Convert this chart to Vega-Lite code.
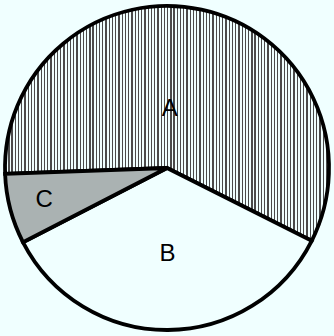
{
  "$schema": "https://vega.github.io/schema/vega-lite/v6.json",
  "width": 334,
  "height": 336,
  "padding": 0,
  "autosize": {"type": "none"},
  "background": "#f0ffff",
  "config": {"view": {"stroke": null}},
  "data": {"values": [
    {"cat": "A", "value": 58},
    {"cat": "B", "value": 35},
    {"cat": "C", "value": 7}
  ]},
  "encoding": {
    "theta": {"field": "value", "type": "quantitative", "stack": true, "scale": {"range": [4.676, 10.959]}},
    "detail": {"field": "cat", "type": "nominal"}
  },
  "layer": [
    {
      "mark": {"type": "arc", "radius": 162, "stroke": "#000000", "strokeWidth": 3.8},
      "encoding": {
        "fill": {
          "condition": [
            {"test": "datum.cat === 'A'", "value": {"gradient": "linear", "x1": 0, "y1": 0, "x2": 1, "y2": 0, "stops": [
{"offset":0,"color":"#4a4a4a"},{"offset":0.004,"color":"#4a4a4a"},{"offset":0.004,"color":"#f0ffff"},{"offset":0.01,"color":"#f0ffff"},
{"offset":0.01,"color":"#4a4a4a"},{"offset":0.014,"color":"#4a4a4a"},{"offset":0.014,"color":"#f0ffff"},{"offset":0.02,"color":"#f0ffff"},
{"offset":0.02,"color":"#4a4a4a"},{"offset":0.024,"color":"#4a4a4a"},{"offset":0.024,"color":"#f0ffff"},{"offset":0.03,"color":"#f0ffff"},
{"offset":0.03,"color":"#4a4a4a"},{"offset":0.034,"color":"#4a4a4a"},{"offset":0.034,"color":"#f0ffff"},{"offset":0.04,"color":"#f0ffff"},
{"offset":0.04,"color":"#4a4a4a"},{"offset":0.044,"color":"#4a4a4a"},{"offset":0.044,"color":"#f0ffff"},{"offset":0.05,"color":"#f0ffff"},
{"offset":0.05,"color":"#4a4a4a"},{"offset":0.054,"color":"#4a4a4a"},{"offset":0.054,"color":"#f0ffff"},{"offset":0.06,"color":"#f0ffff"},
{"offset":0.06,"color":"#4a4a4a"},{"offset":0.064,"color":"#4a4a4a"},{"offset":0.064,"color":"#f0ffff"},{"offset":0.07,"color":"#f0ffff"},
{"offset":0.07,"color":"#4a4a4a"},{"offset":0.074,"color":"#4a4a4a"},{"offset":0.074,"color":"#f0ffff"},{"offset":0.08,"color":"#f0ffff"},
{"offset":0.08,"color":"#4a4a4a"},{"offset":0.084,"color":"#4a4a4a"},{"offset":0.084,"color":"#f0ffff"},{"offset":0.09,"color":"#f0ffff"},
{"offset":0.09,"color":"#4a4a4a"},{"offset":0.094,"color":"#4a4a4a"},{"offset":0.094,"color":"#f0ffff"},{"offset":0.10,"color":"#f0ffff"},
{"offset":0.10,"color":"#4a4a4a"},{"offset":0.104,"color":"#4a4a4a"},{"offset":0.104,"color":"#f0ffff"},{"offset":0.11,"color":"#f0ffff"},
{"offset":0.11,"color":"#4a4a4a"},{"offset":0.114,"color":"#4a4a4a"},{"offset":0.114,"color":"#f0ffff"},{"offset":0.12,"color":"#f0ffff"},
{"offset":0.12,"color":"#4a4a4a"},{"offset":0.124,"color":"#4a4a4a"},{"offset":0.124,"color":"#f0ffff"},{"offset":0.13,"color":"#f0ffff"},
{"offset":0.13,"color":"#4a4a4a"},{"offset":0.134,"color":"#4a4a4a"},{"offset":0.134,"color":"#f0ffff"},{"offset":0.14,"color":"#f0ffff"},
{"offset":0.14,"color":"#4a4a4a"},{"offset":0.144,"color":"#4a4a4a"},{"offset":0.144,"color":"#f0ffff"},{"offset":0.15,"color":"#f0ffff"},
{"offset":0.15,"color":"#4a4a4a"},{"offset":0.154,"color":"#4a4a4a"},{"offset":0.154,"color":"#f0ffff"},{"offset":0.16,"color":"#f0ffff"},
{"offset":0.16,"color":"#4a4a4a"},{"offset":0.164,"color":"#4a4a4a"},{"offset":0.164,"color":"#f0ffff"},{"offset":0.17,"color":"#f0ffff"},
{"offset":0.17,"color":"#4a4a4a"},{"offset":0.174,"color":"#4a4a4a"},{"offset":0.174,"color":"#f0ffff"},{"offset":0.18,"color":"#f0ffff"},
{"offset":0.18,"color":"#4a4a4a"},{"offset":0.184,"color":"#4a4a4a"},{"offset":0.184,"color":"#f0ffff"},{"offset":0.19,"color":"#f0ffff"},
{"offset":0.19,"color":"#4a4a4a"},{"offset":0.194,"color":"#4a4a4a"},{"offset":0.194,"color":"#f0ffff"},{"offset":0.20,"color":"#f0ffff"},
{"offset":0.20,"color":"#4a4a4a"},{"offset":0.204,"color":"#4a4a4a"},{"offset":0.204,"color":"#f0ffff"},{"offset":0.21,"color":"#f0ffff"},
{"offset":0.21,"color":"#4a4a4a"},{"offset":0.214,"color":"#4a4a4a"},{"offset":0.214,"color":"#f0ffff"},{"offset":0.22,"color":"#f0ffff"},
{"offset":0.22,"color":"#4a4a4a"},{"offset":0.224,"color":"#4a4a4a"},{"offset":0.224,"color":"#f0ffff"},{"offset":0.23,"color":"#f0ffff"},
{"offset":0.23,"color":"#4a4a4a"},{"offset":0.234,"color":"#4a4a4a"},{"offset":0.234,"color":"#f0ffff"},{"offset":0.24,"color":"#f0ffff"},
{"offset":0.24,"color":"#4a4a4a"},{"offset":0.244,"color":"#4a4a4a"},{"offset":0.244,"color":"#f0ffff"},{"offset":0.25,"color":"#f0ffff"},
{"offset":0.25,"color":"#4a4a4a"},{"offset":0.254,"color":"#4a4a4a"},{"offset":0.254,"color":"#f0ffff"},{"offset":0.26,"color":"#f0ffff"},
{"offset":0.26,"color":"#4a4a4a"},{"offset":0.264,"color":"#4a4a4a"},{"offset":0.264,"color":"#f0ffff"},{"offset":0.27,"color":"#f0ffff"},
{"offset":0.27,"color":"#4a4a4a"},{"offset":0.274,"color":"#4a4a4a"},{"offset":0.274,"color":"#f0ffff"},{"offset":0.28,"color":"#f0ffff"},
{"offset":0.28,"color":"#4a4a4a"},{"offset":0.284,"color":"#4a4a4a"},{"offset":0.284,"color":"#f0ffff"},{"offset":0.29,"color":"#f0ffff"},
{"offset":0.29,"color":"#4a4a4a"},{"offset":0.294,"color":"#4a4a4a"},{"offset":0.294,"color":"#f0ffff"},{"offset":0.30,"color":"#f0ffff"},
{"offset":0.30,"color":"#4a4a4a"},{"offset":0.304,"color":"#4a4a4a"},{"offset":0.304,"color":"#f0ffff"},{"offset":0.31,"color":"#f0ffff"},
{"offset":0.31,"color":"#4a4a4a"},{"offset":0.314,"color":"#4a4a4a"},{"offset":0.314,"color":"#f0ffff"},{"offset":0.32,"color":"#f0ffff"},
{"offset":0.32,"color":"#4a4a4a"},{"offset":0.324,"color":"#4a4a4a"},{"offset":0.324,"color":"#f0ffff"},{"offset":0.33,"color":"#f0ffff"},
{"offset":0.33,"color":"#4a4a4a"},{"offset":0.334,"color":"#4a4a4a"},{"offset":0.334,"color":"#f0ffff"},{"offset":0.34,"color":"#f0ffff"},
{"offset":0.34,"color":"#4a4a4a"},{"offset":0.344,"color":"#4a4a4a"},{"offset":0.344,"color":"#f0ffff"},{"offset":0.35,"color":"#f0ffff"},
{"offset":0.35,"color":"#4a4a4a"},{"offset":0.354,"color":"#4a4a4a"},{"offset":0.354,"color":"#f0ffff"},{"offset":0.36,"color":"#f0ffff"},
{"offset":0.36,"color":"#4a4a4a"},{"offset":0.364,"color":"#4a4a4a"},{"offset":0.364,"color":"#f0ffff"},{"offset":0.37,"color":"#f0ffff"},
{"offset":0.37,"color":"#4a4a4a"},{"offset":0.374,"color":"#4a4a4a"},{"offset":0.374,"color":"#f0ffff"},{"offset":0.38,"color":"#f0ffff"},
{"offset":0.38,"color":"#4a4a4a"},{"offset":0.384,"color":"#4a4a4a"},{"offset":0.384,"color":"#f0ffff"},{"offset":0.39,"color":"#f0ffff"},
{"offset":0.39,"color":"#4a4a4a"},{"offset":0.394,"color":"#4a4a4a"},{"offset":0.394,"color":"#f0ffff"},{"offset":0.40,"color":"#f0ffff"},
{"offset":0.40,"color":"#4a4a4a"},{"offset":0.404,"color":"#4a4a4a"},{"offset":0.404,"color":"#f0ffff"},{"offset":0.41,"color":"#f0ffff"},
{"offset":0.41,"color":"#4a4a4a"},{"offset":0.414,"color":"#4a4a4a"},{"offset":0.414,"color":"#f0ffff"},{"offset":0.42,"color":"#f0ffff"},
{"offset":0.42,"color":"#4a4a4a"},{"offset":0.424,"color":"#4a4a4a"},{"offset":0.424,"color":"#f0ffff"},{"offset":0.43,"color":"#f0ffff"},
{"offset":0.43,"color":"#4a4a4a"},{"offset":0.434,"color":"#4a4a4a"},{"offset":0.434,"color":"#f0ffff"},{"offset":0.44,"color":"#f0ffff"},
{"offset":0.44,"color":"#4a4a4a"},{"offset":0.444,"color":"#4a4a4a"},{"offset":0.444,"color":"#f0ffff"},{"offset":0.45,"color":"#f0ffff"},
{"offset":0.45,"color":"#4a4a4a"},{"offset":0.454,"color":"#4a4a4a"},{"offset":0.454,"color":"#f0ffff"},{"offset":0.46,"color":"#f0ffff"},
{"offset":0.46,"color":"#4a4a4a"},{"offset":0.464,"color":"#4a4a4a"},{"offset":0.464,"color":"#f0ffff"},{"offset":0.47,"color":"#f0ffff"},
{"offset":0.47,"color":"#4a4a4a"},{"offset":0.474,"color":"#4a4a4a"},{"offset":0.474,"color":"#f0ffff"},{"offset":0.48,"color":"#f0ffff"},
{"offset":0.48,"color":"#4a4a4a"},{"offset":0.484,"color":"#4a4a4a"},{"offset":0.484,"color":"#f0ffff"},{"offset":0.49,"color":"#f0ffff"},
{"offset":0.49,"color":"#4a4a4a"},{"offset":0.494,"color":"#4a4a4a"},{"offset":0.494,"color":"#f0ffff"},{"offset":0.50,"color":"#f0ffff"},
{"offset":0.50,"color":"#4a4a4a"},{"offset":0.504,"color":"#4a4a4a"},{"offset":0.504,"color":"#f0ffff"},{"offset":0.51,"color":"#f0ffff"},
{"offset":0.51,"color":"#4a4a4a"},{"offset":0.514,"color":"#4a4a4a"},{"offset":0.514,"color":"#f0ffff"},{"offset":0.52,"color":"#f0ffff"},
{"offset":0.52,"color":"#4a4a4a"},{"offset":0.524,"color":"#4a4a4a"},{"offset":0.524,"color":"#f0ffff"},{"offset":0.53,"color":"#f0ffff"},
{"offset":0.53,"color":"#4a4a4a"},{"offset":0.534,"color":"#4a4a4a"},{"offset":0.534,"color":"#f0ffff"},{"offset":0.54,"color":"#f0ffff"},
{"offset":0.54,"color":"#4a4a4a"},{"offset":0.544,"color":"#4a4a4a"},{"offset":0.544,"color":"#f0ffff"},{"offset":0.55,"color":"#f0ffff"},
{"offset":0.55,"color":"#4a4a4a"},{"offset":0.554,"color":"#4a4a4a"},{"offset":0.554,"color":"#f0ffff"},{"offset":0.56,"color":"#f0ffff"},
{"offset":0.56,"color":"#4a4a4a"},{"offset":0.564,"color":"#4a4a4a"},{"offset":0.564,"color":"#f0ffff"},{"offset":0.57,"color":"#f0ffff"},
{"offset":0.57,"color":"#4a4a4a"},{"offset":0.574,"color":"#4a4a4a"},{"offset":0.574,"color":"#f0ffff"},{"offset":0.58,"color":"#f0ffff"},
{"offset":0.58,"color":"#4a4a4a"},{"offset":0.584,"color":"#4a4a4a"},{"offset":0.584,"color":"#f0ffff"},{"offset":0.59,"color":"#f0ffff"},
{"offset":0.59,"color":"#4a4a4a"},{"offset":0.594,"color":"#4a4a4a"},{"offset":0.594,"color":"#f0ffff"},{"offset":0.60,"color":"#f0ffff"},
{"offset":0.60,"color":"#4a4a4a"},{"offset":0.604,"color":"#4a4a4a"},{"offset":0.604,"color":"#f0ffff"},{"offset":0.61,"color":"#f0ffff"},
{"offset":0.61,"color":"#4a4a4a"},{"offset":0.614,"color":"#4a4a4a"},{"offset":0.614,"color":"#f0ffff"},{"offset":0.62,"color":"#f0ffff"},
{"offset":0.62,"color":"#4a4a4a"},{"offset":0.624,"color":"#4a4a4a"},{"offset":0.624,"color":"#f0ffff"},{"offset":0.63,"color":"#f0ffff"},
{"offset":0.63,"color":"#4a4a4a"},{"offset":0.634,"color":"#4a4a4a"},{"offset":0.634,"color":"#f0ffff"},{"offset":0.64,"color":"#f0ffff"},
{"offset":0.64,"color":"#4a4a4a"},{"offset":0.644,"color":"#4a4a4a"},{"offset":0.644,"color":"#f0ffff"},{"offset":0.65,"color":"#f0ffff"},
{"offset":0.65,"color":"#4a4a4a"},{"offset":0.654,"color":"#4a4a4a"},{"offset":0.654,"color":"#f0ffff"},{"offset":0.66,"color":"#f0ffff"},
{"offset":0.66,"color":"#4a4a4a"},{"offset":0.664,"color":"#4a4a4a"},{"offset":0.664,"color":"#f0ffff"},{"offset":0.67,"color":"#f0ffff"},
{"offset":0.67,"color":"#4a4a4a"},{"offset":0.674,"color":"#4a4a4a"},{"offset":0.674,"color":"#f0ffff"},{"offset":0.68,"color":"#f0ffff"},
{"offset":0.68,"color":"#4a4a4a"},{"offset":0.684,"color":"#4a4a4a"},{"offset":0.684,"color":"#f0ffff"},{"offset":0.69,"color":"#f0ffff"},
{"offset":0.69,"color":"#4a4a4a"},{"offset":0.694,"color":"#4a4a4a"},{"offset":0.694,"color":"#f0ffff"},{"offset":0.70,"color":"#f0ffff"},
{"offset":0.70,"color":"#4a4a4a"},{"offset":0.704,"color":"#4a4a4a"},{"offset":0.704,"color":"#f0ffff"},{"offset":0.71,"color":"#f0ffff"},
{"offset":0.71,"color":"#4a4a4a"},{"offset":0.714,"color":"#4a4a4a"},{"offset":0.714,"color":"#f0ffff"},{"offset":0.72,"color":"#f0ffff"},
{"offset":0.72,"color":"#4a4a4a"},{"offset":0.724,"color":"#4a4a4a"},{"offset":0.724,"color":"#f0ffff"},{"offset":0.73,"color":"#f0ffff"},
{"offset":0.73,"color":"#4a4a4a"},{"offset":0.734,"color":"#4a4a4a"},{"offset":0.734,"color":"#f0ffff"},{"offset":0.74,"color":"#f0ffff"},
{"offset":0.74,"color":"#4a4a4a"},{"offset":0.744,"color":"#4a4a4a"},{"offset":0.744,"color":"#f0ffff"},{"offset":0.75,"color":"#f0ffff"},
{"offset":0.75,"color":"#4a4a4a"},{"offset":0.754,"color":"#4a4a4a"},{"offset":0.754,"color":"#f0ffff"},{"offset":0.76,"color":"#f0ffff"},
{"offset":0.76,"color":"#4a4a4a"},{"offset":0.764,"color":"#4a4a4a"},{"offset":0.764,"color":"#f0ffff"},{"offset":0.77,"color":"#f0ffff"},
{"offset":0.77,"color":"#4a4a4a"},{"offset":0.774,"color":"#4a4a4a"},{"offset":0.774,"color":"#f0ffff"},{"offset":0.78,"color":"#f0ffff"},
{"offset":0.78,"color":"#4a4a4a"},{"offset":0.784,"color":"#4a4a4a"},{"offset":0.784,"color":"#f0ffff"},{"offset":0.79,"color":"#f0ffff"},
{"offset":0.79,"color":"#4a4a4a"},{"offset":0.794,"color":"#4a4a4a"},{"offset":0.794,"color":"#f0ffff"},{"offset":0.80,"color":"#f0ffff"},
{"offset":0.80,"color":"#4a4a4a"},{"offset":0.804,"color":"#4a4a4a"},{"offset":0.804,"color":"#f0ffff"},{"offset":0.81,"color":"#f0ffff"},
{"offset":0.81,"color":"#4a4a4a"},{"offset":0.814,"color":"#4a4a4a"},{"offset":0.814,"color":"#f0ffff"},{"offset":0.82,"color":"#f0ffff"},
{"offset":0.82,"color":"#4a4a4a"},{"offset":0.824,"color":"#4a4a4a"},{"offset":0.824,"color":"#f0ffff"},{"offset":0.83,"color":"#f0ffff"},
{"offset":0.83,"color":"#4a4a4a"},{"offset":0.834,"color":"#4a4a4a"},{"offset":0.834,"color":"#f0ffff"},{"offset":0.84,"color":"#f0ffff"},
{"offset":0.84,"color":"#4a4a4a"},{"offset":0.844,"color":"#4a4a4a"},{"offset":0.844,"color":"#f0ffff"},{"offset":0.85,"color":"#f0ffff"},
{"offset":0.85,"color":"#4a4a4a"},{"offset":0.854,"color":"#4a4a4a"},{"offset":0.854,"color":"#f0ffff"},{"offset":0.86,"color":"#f0ffff"},
{"offset":0.86,"color":"#4a4a4a"},{"offset":0.864,"color":"#4a4a4a"},{"offset":0.864,"color":"#f0ffff"},{"offset":0.87,"color":"#f0ffff"},
{"offset":0.87,"color":"#4a4a4a"},{"offset":0.874,"color":"#4a4a4a"},{"offset":0.874,"color":"#f0ffff"},{"offset":0.88,"color":"#f0ffff"},
{"offset":0.88,"color":"#4a4a4a"},{"offset":0.884,"color":"#4a4a4a"},{"offset":0.884,"color":"#f0ffff"},{"offset":0.89,"color":"#f0ffff"},
{"offset":0.89,"color":"#4a4a4a"},{"offset":0.894,"color":"#4a4a4a"},{"offset":0.894,"color":"#f0ffff"},{"offset":0.90,"color":"#f0ffff"},
{"offset":0.90,"color":"#4a4a4a"},{"offset":0.904,"color":"#4a4a4a"},{"offset":0.904,"color":"#f0ffff"},{"offset":0.91,"color":"#f0ffff"},
{"offset":0.91,"color":"#4a4a4a"},{"offset":0.914,"color":"#4a4a4a"},{"offset":0.914,"color":"#f0ffff"},{"offset":0.92,"color":"#f0ffff"},
{"offset":0.92,"color":"#4a4a4a"},{"offset":0.924,"color":"#4a4a4a"},{"offset":0.924,"color":"#f0ffff"},{"offset":0.93,"color":"#f0ffff"},
{"offset":0.93,"color":"#4a4a4a"},{"offset":0.934,"color":"#4a4a4a"},{"offset":0.934,"color":"#f0ffff"},{"offset":0.94,"color":"#f0ffff"},
{"offset":0.94,"color":"#4a4a4a"},{"offset":0.944,"color":"#4a4a4a"},{"offset":0.944,"color":"#f0ffff"},{"offset":0.95,"color":"#f0ffff"},
{"offset":0.95,"color":"#4a4a4a"},{"offset":0.954,"color":"#4a4a4a"},{"offset":0.954,"color":"#f0ffff"},{"offset":0.96,"color":"#f0ffff"},
{"offset":0.96,"color":"#4a4a4a"},{"offset":0.964,"color":"#4a4a4a"},{"offset":0.964,"color":"#f0ffff"},{"offset":0.97,"color":"#f0ffff"},
{"offset":0.97,"color":"#4a4a4a"},{"offset":0.974,"color":"#4a4a4a"},{"offset":0.974,"color":"#f0ffff"},{"offset":0.98,"color":"#f0ffff"},
{"offset":0.98,"color":"#4a4a4a"},{"offset":0.984,"color":"#4a4a4a"},{"offset":0.984,"color":"#f0ffff"},{"offset":0.99,"color":"#f0ffff"},
{"offset":0.99,"color":"#4a4a4a"},{"offset":0.994,"color":"#4a4a4a"},{"offset":0.994,"color":"#f0ffff"},{"offset":1,"color":"#f0ffff"}
            ]}},
            {"test": "datum.cat === 'C'", "value": "#aab2b2"}
          ],
          "value": "#f0ffff"
        }
      }
    },
    {
      "mark": {"type": "text", "radius": 60, "dx": -10, "font": "Liberation Sans", "fontSize": 24, "color": "#000000"},
      "encoding": {
        "text": {"field": "cat", "type": "nominal"},
        "opacity": {"condition": {"test": "datum.cat === 'A'", "value": 1}, "value": 0}
      }
    },
    {
      "mark": {"type": "text", "radius": 86, "font": "Liberation Sans", "fontSize": 24, "color": "#000000"},
      "encoding": {
        "text": {"field": "cat", "type": "nominal"},
        "opacity": {"condition": {"test": "datum.cat === 'B'", "value": 1}, "value": 0}
      }
    },
    {
      "mark": {"type": "text", "radius": 127, "font": "Liberation Sans", "fontSize": 24, "color": "#000000"},
      "encoding": {
        "text": {"field": "cat", "type": "nominal"},
        "opacity": {"condition": {"test": "datum.cat === 'C'", "value": 1}, "value": 0}
      }
    }
  ]
}
